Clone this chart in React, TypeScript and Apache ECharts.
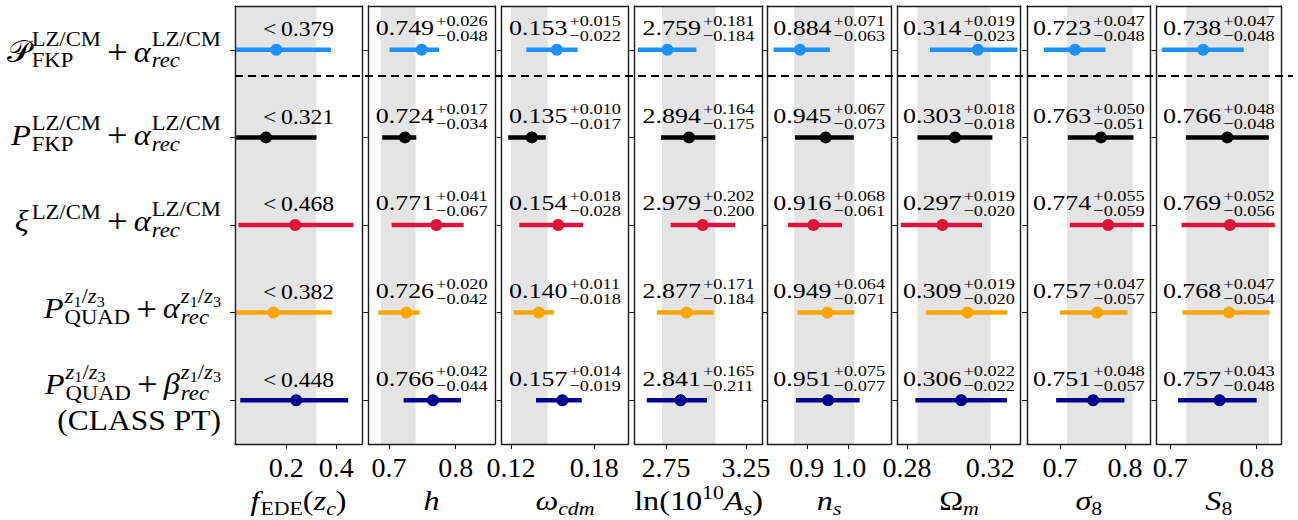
import React, { useEffect, useRef } from "react";
import * as echarts from "echarts";

const W = 1298;
const H = 520;
const FONT = '"Liberation Serif", "Times New Roman", "DejaVu Serif", serif';

// ---------------- data ----------------
const rowColors = ["#1E90FF", "#000000", "#DC143C", "#FFA500", "#00008B"];

// f_EDE(z_c): upper limits, points and lower bar ends
const fedeUpper = [0.379, 0.321, 0.468, 0.382, 0.448];
const fedePoint = [0.16, 0.119, 0.236, 0.149, 0.24];
const fedeLow = [0.0, 0.0, 0.009, 0.0, 0.016];

const hMean = [0.749, 0.724, 0.771, 0.726, 0.766];
const hPlus = [0.026, 0.017, 0.041, 0.02, 0.042];
const hMinus = [0.048, 0.034, 0.067, 0.042, 0.044];

const wcdmMean = [0.153, 0.135, 0.154, 0.14, 0.157];
const wcdmPlus = [0.015, 0.01, 0.018, 0.011, 0.014];
const wcdmMinus = [0.022, 0.017, 0.028, 0.018, 0.019];

const lnAsMean = [2.759, 2.894, 2.979, 2.877, 2.841];
const lnAsPlus = [0.181, 0.164, 0.202, 0.171, 0.165];
const lnAsMinus = [0.184, 0.175, 0.2, 0.184, 0.211];

const nsMean = [0.884, 0.945, 0.916, 0.949, 0.951];
const nsPlus = [0.071, 0.067, 0.068, 0.064, 0.075];
const nsMinus = [0.063, 0.073, 0.061, 0.071, 0.077];

const omMean = [0.314, 0.303, 0.297, 0.309, 0.306];
const omPlus = [0.019, 0.018, 0.019, 0.019, 0.022];
const omMinus = [0.023, 0.018, 0.02, 0.02, 0.022];

const sigMean = [0.723, 0.763, 0.774, 0.757, 0.751];
const sigPlus = [0.047, 0.05, 0.055, 0.047, 0.048];
const sigMinus = [0.048, 0.051, 0.059, 0.057, 0.057];

const S8Mean = [0.738, 0.766, 0.769, 0.768, 0.757];
const S8Plus = [0.047, 0.048, 0.052, 0.047, 0.043];
const S8Minus = [0.048, 0.048, 0.056, 0.054, 0.048];

// axes
const xMins = [-0.005, 0.669, 0.1133, 2.552, 0.806, 0.2753, 0.6492, 0.6842];
const xMaxs = [0.503, 0.859, 0.2045, 3.354, 1.1007, 0.3346, 0.8395, 0.8282];
const tickValues = [[0.2, 0.4], [0.7, 0.8], [0.12, 0.18], [2.75, 3.25], [0.9, 1.0], [0.28, 0.32], [0.7, 0.8], [0.7, 0.8]];
const tickLabels = [["0.2", "0.4"], ["0.7", "0.8"], ["0.12", "0.18"], ["2.75", "3.25"], ["0.9", "1.0"], ["0.28", "0.32"], ["0.7", "0.8"], ["0.7", "0.8"]];
// shaded reference bands
const bandLo = [0.0, 0.688, 0.12, 2.725, 0.87, 0.285, 0.7108, 0.7185];
const bandHi = [0.32, 0.74, 0.1464, 3.06, 1.0134, 0.3201, 0.8118, 0.8143];
const rowTicks = [0, 1, 2, 3, 4];
const dividerAt = 0.3;

// ---------------- layout ----------------
const gridLefts = [235, 368.3, 501.7, 634.3, 767.3, 897.3, 1027, 1156.7];
const gridWidths = [127, 126.7, 126.6, 128.4, 123.7, 123.4, 123.7, 124.3];
const gridTop = 6;
const gridHeight = 438;
const FRAME = "#1a1a1a";
const BAND = "#e4e4e4";

// ---------------- math text helper ----------------
type Run = { t: string; s: number; it?: boolean; dy?: number };
type Stack = { sup?: Run[]; sub?: Run[]; supDy?: number; subDy?: number };
type Gap = { gap: number };
type Piece = Run | Stack | Gap;

let ctx: CanvasRenderingContext2D | null = null;
const fontOf = (s: number, it?: boolean) => `${it ? "italic " : ""}${s}px ${FONT}`;
const measure = (t: string, s: number, it?: boolean) => {
  if (!ctx) ctx = document.createElement("canvas").getContext("2d");
  ctx!.font = fontOf(s, it);
  return ctx!.measureText(t).width;
};

const textEl = (r: Run, x: number, yb: number, sx: number, color: string) => ({
  type: "text",
  x,
  y: yb - 0.34 * r.s,
  scaleX: sx,
  silent: true,
  z: 20,
  style: {
    text: r.t,
    font: fontOf(r.s, r.it),
    fill: color,
    align: "left",
    verticalAlign: "middle",
    textAlign: "left",
    textVerticalAlign: "middle",
  },
});

function mathEls(pieces: Piece[], anchorX: number, baseline: number, align: string, sx: number, color = "#000") {
  const runsW = (runs: Run[]) => runs.reduce((a, r) => a + measure(r.t, r.s, r.it) * sx, 0);
  const widthOf = (p: Piece) => {
    if ("gap" in p) return p.gap;
    if ("t" in p) return measure(p.t, p.s, p.it) * sx;
    return Math.max(runsW(p.sup || []), runsW(p.sub || []));
  };
  const total = pieces.reduce((a, p) => a + widthOf(p), 0);
  let x = align === "left" ? anchorX : align === "center" ? anchorX - total / 2 : anchorX - total;
  const els: any[] = [];
  const pushRuns = (runs: Run[], x0: number, base: number) => {
    let xx = x0;
    for (const r of runs) {
      els.push(textEl(r, xx, base + (r.dy || 0), sx, color));
      xx += measure(r.t, r.s, r.it) * sx;
    }
  };
  for (const p of pieces) {
    if ("gap" in p) {
      x += p.gap;
      continue;
    }
    if ("t" in p) {
      pushRuns([p], x, baseline);
      x += widthOf(p);
      continue;
    }
    if (p.sup) pushRuns(p.sup, x, baseline + (p.supDy ?? -10));
    if (p.sub) pushRuns(p.sub, x, baseline + (p.subDy ?? 5));
    x += widthOf(p);
  }
  return els;
}

// ---------------- label definitions ----------------
const M = 30;
const S = 21;
const SS = 15;
const LZ: Run[] = [{ t: "LZ/CM", s: S }];
const Z13: Run[] = [
  { t: "z", s: S, it: true },
  { t: "1", s: SS, dy: 3 },
  { t: "/", s: S },
  { t: "z", s: S, it: true },
  { t: "3", s: SS, dy: 3 },
];
const REC: Run[] = [{ t: "rec", s: S, it: true }];
const SUPD = -15;
const SUBD = 6;
const plusPieces: Piece[] = [{ gap: 6 }, { t: "+", s: 34, dy: 1 }, { gap: 6 }];

const rowLabels: Piece[][] = [
  [{ t: "\u{1D4AB}", s: M }, { gap: 1 }, { sup: LZ, sub: [{ t: "FKP", s: S }], supDy: SUPD, subDy: SUBD }, ...plusPieces, { t: "α", s: M, it: true }, { gap: 1 }, { sup: LZ, sub: REC, supDy: SUPD, subDy: SUBD }],
  [{ t: "P", s: M, it: true }, { gap: 1 }, { sup: LZ, sub: [{ t: "FKP", s: S }], supDy: SUPD, subDy: SUBD }, ...plusPieces, { t: "α", s: M, it: true }, { gap: 1 }, { sup: LZ, sub: REC, supDy: SUPD, subDy: SUBD }],
  [{ t: "ξ", s: M, it: true }, { gap: 3 }, { sup: LZ, supDy: -12 }, ...plusPieces, { t: "α", s: M, it: true }, { gap: 1 }, { sup: LZ, sub: REC, supDy: SUPD, subDy: SUBD }],
  [{ t: "P", s: M, it: true }, { gap: 1 }, { sup: Z13, sub: [{ t: "QUAD", s: S }], supDy: SUPD, subDy: SUBD }, ...plusPieces, { t: "α", s: M, it: true }, { gap: 1 }, { sup: Z13, sub: REC, supDy: SUPD, subDy: SUBD }],
  [{ t: "P", s: M, it: true }, { gap: 1 }, { sup: Z13, sub: [{ t: "QUAD", s: S }], supDy: SUPD, subDy: SUBD }, ...plusPieces, { t: "β", s: M, it: true }, { gap: 1 }, { sup: Z13, sub: REC, supDy: SUPD, subDy: SUBD }],
];
const rowLabelBase = [12, 8, 6, 6, -6];
const extraLine = "(CLASS PT)";

const T = 28;
const TS = 19;
const axisTitles: Piece[][] = [
  [{ t: "f", s: T, it: true }, { gap: 1 }, { t: "EDE", s: TS, dy: 5 }, { t: "(", s: T }, { t: "z", s: T, it: true }, { t: "c", s: TS, it: true, dy: 5 }, { t: ")", s: T }],
  [{ t: "h", s: T, it: true }],
  [{ t: "ω", s: T, it: true }, { t: "cdm", s: TS, it: true, dy: 5 }],
  [{ t: "ln(10", s: T }, { t: "10", s: TS, dy: -11 }, { t: "A", s: T, it: true }, { t: "s", s: TS, it: true, dy: 5 }, { t: ")", s: T }],
  [{ t: "n", s: T, it: true }, { t: "s", s: TS, it: true, dy: 5 }],
  [{ t: "Ω", s: T }, { t: "m", s: TS, it: true, dy: 5 }],
  [{ t: "σ", s: T, it: true }, { t: "8", s: TS, dy: 5 }],
  [{ t: "S", s: T, it: true }, { t: "8", s: TS, dy: 5 }],
];

const means = [hMean, wcdmMean, lnAsMean, nsMean, omMean, sigMean, S8Mean];
const pluses = [hPlus, wcdmPlus, lnAsPlus, nsPlus, omPlus, sigPlus, S8Plus];
const minuses = [hMinus, wcdmMinus, lnAsMinus, nsMinus, omMinus, sigMinus, S8Minus];

function panelData(i: number) {
  return rowTicks.map((r) => {
    if (i === 0) return [fedePoint[r], r, fedeLow[r], fedeUpper[r]];
    const m = means[i - 1][r];
    return [m, r, m - minuses[i - 1][r], m + pluses[i - 1][r]];
  });
}

function annotation(i: number, r: number): Piece[] {
  if (i === 0) return [{ t: "<\u2009" + fedeUpper[r].toFixed(3), s: 20 }];
  return [
    { t: means[i - 1][r].toFixed(3), s: 22 },
    { gap: 2 },
    {
      sup: [{ t: "+" + pluses[i - 1][r].toFixed(3), s: 15.5 }],
      sub: [{ t: "\u2212" + minuses[i - 1][r].toFixed(3), s: 15.5 }],
      supDy: -9,
      subDy: 6,
    },
  ];
}

function buildOption() {
  const grid: any[] = [];
  const xAxis: any[] = [];
  const yAxis: any[] = [];
  const series: any[] = [];
  for (let i = 0; i < 8; i++) {
    grid.push({ left: gridLefts[i], width: gridWidths[i], top: gridTop, height: gridHeight, show: false });
    const lineStyle = { color: FRAME, width: 1.4 };
    xAxis.push({
      gridIndex: i,
      type: "value",
      min: xMins[i],
      max: xMaxs[i],
      position: "bottom",
      z: 10,
      axisLine: { show: true, onZero: false, lineStyle },
      axisTick: { show: true, inside: false, length: 5, customValues: tickValues[i], lineStyle: { color: FRAME, width: 1 } },
      axisLabel: {
        show: true,
        customValues: tickValues[i],
        formatter: (v: number) => {
          const j = tickValues[i].findIndex((t) => Math.abs(t - v) < 1e-9);
          return j >= 0 ? tickLabels[i][j] : "";
        },
        fontFamily: FONT,
        fontSize: 28,
        color: "#000",
        margin: 9,
      },
      splitLine: { show: false },
    });
    xAxis.push({
      gridIndex: i,
      type: "value",
      min: xMins[i],
      max: xMaxs[i],
      position: "top",
      z: 10,
      axisLine: { show: true, onZero: false, lineStyle },
      axisTick: { show: false },
      axisLabel: { show: false },
      splitLine: { show: false },
    });
    yAxis.push({
      gridIndex: i,
      type: "value",
      inverse: true,
      min: -0.5,
      max: 4.5,
      position: "left",
      z: 10,
      axisLine: { show: true, onZero: false, lineStyle },
      axisTick: { show: true, inside: false, length: 5, customValues: rowTicks, lineStyle: { color: FRAME, width: 1 } },
      axisLabel: { show: false },
      splitLine: { show: false },
    });
    yAxis.push({
      gridIndex: i,
      type: "value",
      inverse: true,
      min: -0.5,
      max: 4.5,
      position: "right",
      z: 10,
      axisLine: { show: true, onZero: false, lineStyle },
      axisTick: { show: false },
      axisLabel: { show: false },
      splitLine: { show: false },
    });
    // shaded band
    series.push({
      type: "custom",
      xAxisIndex: 2 * i,
      yAxisIndex: 2 * i,
      z: 1,
      silent: true,
      data: [[bandLo[i], -0.5, bandHi[i], 4.5]],
      renderItem: (_p: any, api: any) => {
        const a = api.coord([api.value(0), api.value(1)]);
        const b = api.coord([api.value(2), api.value(3)]);
        return {
          type: "rect",
          shape: { x: a[0], y: a[1], width: b[0] - a[0], height: b[1] - a[1] },
          style: { fill: BAND },
        };
      },
    });
    // error bars + points + value annotations
    series.push({
      type: "custom",
      xAxisIndex: 2 * i,
      yAxisIndex: 2 * i,
      z: 5,
      silent: true,
      clip: false,
      data: panelData(i),
      renderItem: (params: any, api: any) => {
        const r = params.dataIndex;
        const row = api.value(1);
        const c = api.coord([api.value(0), row]);
        const a = api.coord([api.value(2), row]);
        const b = api.coord([api.value(3), row]);
        const mid = api.coord([(xMins[i] + xMaxs[i]) / 2, row]);
        const color = rowColors[r];
        const base = i === 0 ? c[1] - 13.3 : c[1] - 14.5;
        const texts = mathEls(annotation(i, r), mid[0], base, "center", 1.18);
        return {
          type: "group",
          children: [
            { type: "line", shape: { x1: a[0], y1: a[1], x2: b[0], y2: b[1] }, style: { stroke: color, lineWidth: 4.5, lineCap: "butt" } },
            { type: "circle", shape: { cx: c[0], cy: c[1], r: 6 }, style: { fill: color } },
            ...texts,
          ],
        };
      },
    });
  }
  return { animation: false, backgroundColor: "#ffffff", grid, xAxis, yAxis, series };
}

export default function App() {
  const ref = useRef<HTMLDivElement>(null);
  useEffect(() => {
    const chart = echarts.init(ref.current!, undefined, { renderer: "svg" });
    chart.setOption(buildOption());

    const elements: any[] = [];
    const px = (i: number, x: number, y: number) =>
      chart.convertToPixel({ xAxisIndex: 2 * i, yAxisIndex: 2 * i } as any, [x, y]) as number[];

    // row labels (left)
    rowTicks.forEach((r) => {
      const p = px(0, xMins[0], r);
      const ax = p[0] - 14;
      elements.push(...mathEls(rowLabels[r], ax, p[1] + rowLabelBase[r], "right", 1.08));
      if (r === 4) elements.push(...mathEls([{ t: extraLine, s: M }], ax, p[1] + 30, "right", 1.05));
    });

    // axis titles
    for (let i = 0; i < 8; i++) {
      const p = px(i, (xMins[i] + xMaxs[i]) / 2, 4.5);
      elements.push(...mathEls(axisTitles[i], p[0], p[1] + 66, "center", 1.15));
    }

    // dashed divider (runs slightly past the last panel, as in the figure)
    const d0 = px(0, xMins[0], dividerAt);
    const d1 = px(7, xMaxs[7], dividerAt);
    elements.push({
      type: "line",
      z: 30,
      silent: true,
      shape: { x1: d0[0], y1: d0[1], x2: d1[0] + 12, y2: d1[1] },
      style: { stroke: "#000", lineWidth: 2, lineDash: [8, 5] },
    });

    chart.setOption({ graphic: { elements } });
    return () => chart.dispose();
  }, []);
  return <div ref={ref} style={{ position: "fixed", left: 0, top: 0, width: W, height: H, background: "#fff" }} />;
}
